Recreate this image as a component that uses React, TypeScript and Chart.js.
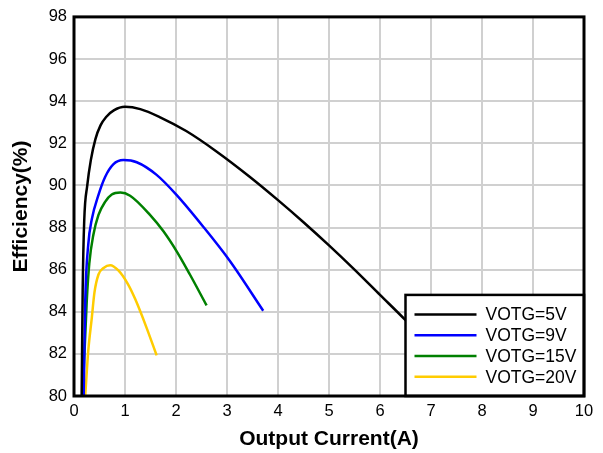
import React, { useEffect, useRef } from "react";
import { Chart, registerables } from "chart.js";

Chart.register(...registerables);

const xTicks = [0, 1, 2, 3, 4, 5, 6, 7, 8, 9, 10];
const yTicks = [80, 82, 84, 86, 88, 90, 92, 94, 96, 98];

const seriesNames = ["VOTG=5V", "VOTG=9V", "VOTG=15V", "VOTG=20V"];
const seriesColors = ["#000000", "#0000ff", "#008000", "#ffcc00"];

const v5x = [0.15, 0.17, 0.2, 0.26, 0.33, 0.42, 0.52, 0.63, 0.78, 1.0, 1.3, 1.7, 2.2, 2.8, 3.45, 4.0, 4.5, 5.0, 5.5, 6.0, 6.5, 7.0];
const v5y = [80, 85.0, 88.3, 90.0, 91.2, 92.2, 92.85, 93.25, 93.56, 93.73, 93.62, 93.22, 92.58, 91.6, 90.4, 89.3, 88.25, 87.15, 86.0, 84.8, 83.6, 82.3];

const v9x = [0.19, 0.22, 0.28, 0.35, 0.48, 0.61, 0.77, 0.97, 1.23, 1.62, 2.01, 2.53, 3.06, 3.71];
const v9y = [80, 84.5, 87.2, 88.4, 89.55, 90.4, 91.0, 91.2, 91.1, 90.5, 89.55, 88.05, 86.4, 84.05];

const v15x = [0.17, 0.25, 0.3, 0.38, 0.48, 0.61, 0.74, 0.91, 1.1, 1.49, 1.75, 2.01, 2.27, 2.6];
const v15y = [80, 84.5, 86.3, 87.66, 88.6, 89.22, 89.57, 89.66, 89.51, 88.6, 87.83, 86.88, 85.78, 84.3];

const v20x = [0.22, 0.28, 0.35, 0.4, 0.48, 0.58, 0.71, 0.87, 1.06, 1.2, 1.42, 1.62];
const v20y = [80, 82.16, 83.73, 84.9, 85.77, 86.08, 86.21, 85.96, 85.3, 84.6, 83.26, 81.93];

const seriesX = [v5x, v9x, v15x, v20x];
const seriesY = [v5y, v9y, v15y, v20y];

const FONT = "Arial, 'Liberation Sans', Helvetica, sans-serif";

const framePlugin = {
  id: "frameAndLegend",
  afterDraw(chart: any) {
    const { ctx, chartArea, scales } = chart;
    ctx.save();
    const lx = scales.x.getPixelForValue(6.5);
    const ly = scales.y.getPixelForValue(84.8);
    const rx = chartArea.right;
    const by = chartArea.bottom;
    ctx.fillStyle = "#ffffff";
    ctx.fillRect(lx, ly, rx - lx, by - ly);
    ctx.strokeStyle = "#000";
    ctx.lineWidth = 2.5;
    ctx.strokeRect(lx, ly, rx - lx, by - ly);
    ctx.font = `17.5px ${FONT}`;
    ctx.textBaseline = "middle";
    ctx.textAlign = "left";
    seriesNames.forEach((name, i) => {
      const y = ly + 19.5 + i * 20.8;
      ctx.beginPath();
      ctx.strokeStyle = seriesColors[i];
      ctx.lineWidth = 2.5;
      ctx.moveTo(lx + 9, y);
      ctx.lineTo(lx + 71, y);
      ctx.stroke();
      ctx.fillStyle = "#000";
      ctx.fillText(name, lx + 80, y + 1);
    });
    ctx.strokeStyle = "#000";
    ctx.lineWidth = 3;
    ctx.strokeRect(chartArea.left, chartArea.top, chartArea.right - chartArea.left, chartArea.bottom - chartArea.top);
    ctx.restore();
  },
};

export default function App() {
  const ref = useRef<HTMLCanvasElement>(null);
  useEffect(() => {
    if (!ref.current) return;
    const chart = new Chart(ref.current, {
      type: "scatter",
      data: {
        datasets: seriesNames.map((name, i) => ({
          label: name,
          data: seriesX[i].map((x, j) => ({ x, y: seriesY[i][j] })),
          showLine: true,
          borderColor: seriesColors[i],
          backgroundColor: seriesColors[i],
          borderWidth: 2.5,
          pointRadius: 0,
          cubicInterpolationMode: "monotone",
          clip: false,
        })),
      },
      options: {
        animation: false,
        responsive: false,
        maintainAspectRatio: false,
        layout: { padding: { top: 13.5, right: 19, bottom: 0, left: 0 } },
        plugins: { legend: { display: false }, tooltip: { enabled: false } },
        scales: {
          x: {
            type: "linear",
            min: xTicks[0],
            max: xTicks[xTicks.length - 1],
            afterBuildTicks: (s: any) => { s.ticks = xTicks.map((v) => ({ value: v })); },
            afterFit: (s: any) => { s.height = 57; },
            ticks: { color: "#000", font: { family: FONT, size: 16.5 }, padding: 6, maxRotation: 0 },
            grid: { color: "#d0d0d0", lineWidth: 2, tickLength: 0 },
            border: { display: false },
            title: {
              display: true,
              text: "Output Current(A)",
              color: "#000",
              font: { family: FONT, size: 21, weight: "bold" },
              padding: { top: 0, bottom: 1.5 },
            },
          },
          y: {
            type: "linear",
            min: yTicks[0],
            max: yTicks[yTicks.length - 1],
            afterBuildTicks: (s: any) => { s.ticks = yTicks.map((v) => ({ value: v })); },
            afterFit: (s: any) => { s.width = 74; },
            ticks: { color: "#000", font: { family: FONT, size: 16.5 }, padding: 7 },
            grid: { color: "#d0d0d0", lineWidth: 2, tickLength: 0 },
            border: { display: false },
            title: {
              display: true,
              text: "Efficiency(%)",
              color: "#000",
              font: { family: FONT, size: 21, weight: "bold" },
              padding: { top: 8.4, bottom: 0 },
            },
          },
        },
      },
      plugins: [framePlugin],
    } as any);
    return () => chart.destroy();
  }, []);
  return (
    <div style={{ position: "fixed", left: 0, top: 0, width: 603, height: 453, background: "#fff" }}>
      <canvas ref={ref} width={603} height={453} style={{ width: 603, height: 453, display: "block" }} />
    </div>
  );
}
